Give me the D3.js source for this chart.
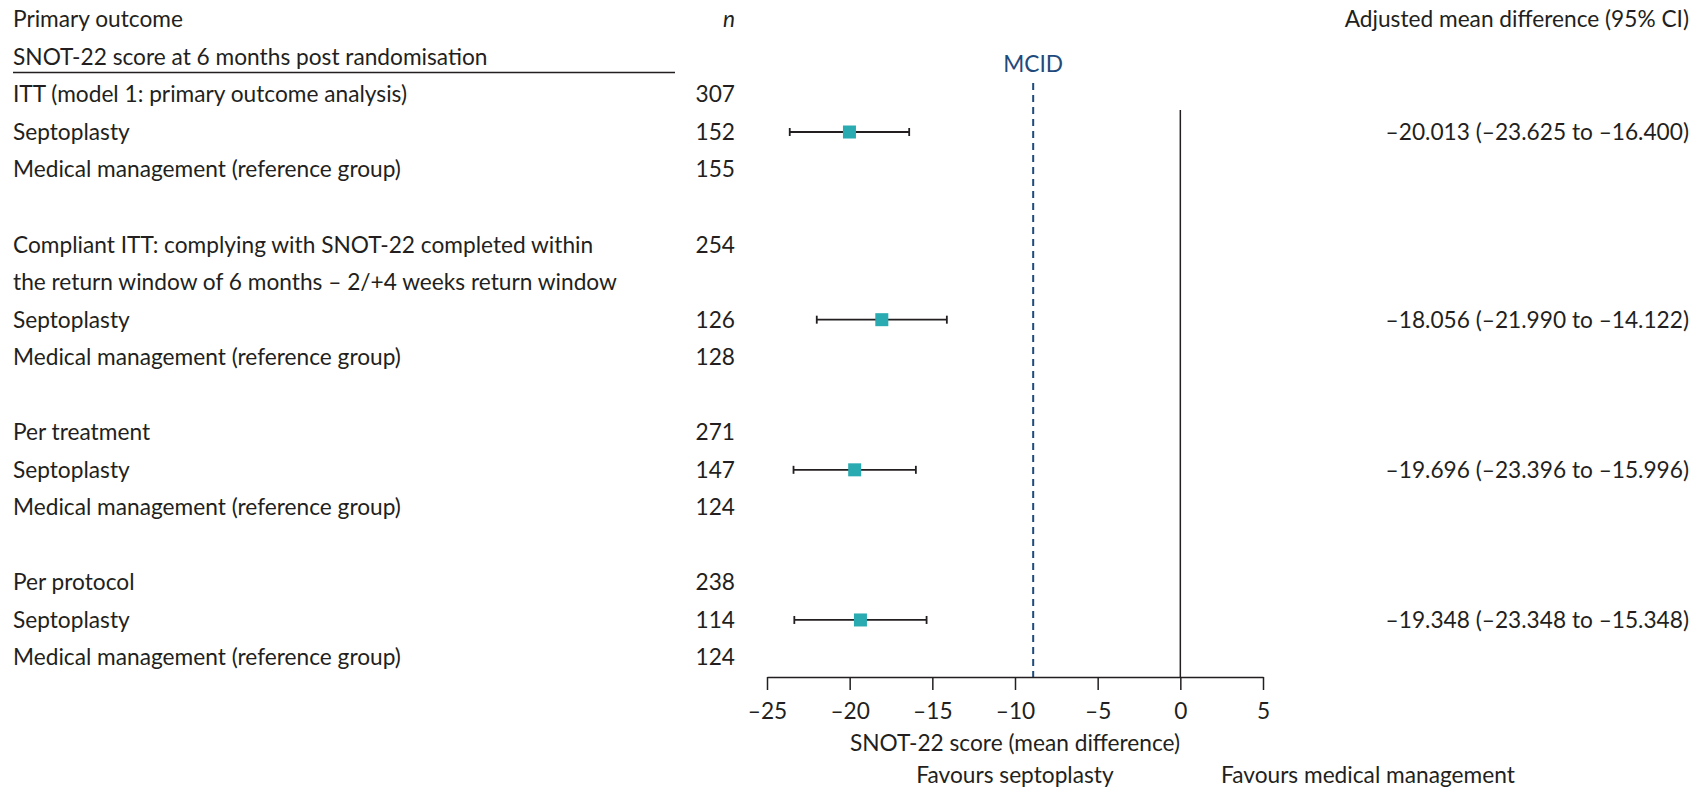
<!DOCTYPE html>
<meta charset="utf-8">
<head>
<style>
  body { margin: 0; background: #fff; }
  text { font-family: Lato, "Open Sans", sans-serif; fill: #231f20; }
</style>
</head>
<script src="https://d3js.org/d3.v7.min.js"></script>
<div id="chart"></div>
<script>

  // row labels, top to bottom (empty string = spacer row)
  var rowLabels = [
    "Primary outcome",
    "SNOT-22 score at 6 months post randomisation",
    "ITT (model 1: primary outcome analysis)",
    "Septoplasty",
    "Medical management (reference group)",
    "",
    "Compliant ITT: complying with SNOT-22 completed within",
    "the return window of 6 months \u2013 2/+4 weeks return window",
    "Septoplasty",
    "Medical management (reference group)",
    "",
    "Per treatment",
    "Septoplasty",
    "Medical management (reference group)",
    "",
    "Per protocol",
    "Septoplasty",
    "Medical management (reference group)"
  ];
  var rowN = [null, null, 307, 152, 155, null, 254, null, 126, 128, null, 271, 147, 124, null, 238, 114, 124];

  // estimates: row index, mean difference, lower, upper
  var estRows = [3, 8, 12, 16];
  var estMean = [-20.013, -18.056, -19.696, -19.348];
  var estLow = [-23.625, -21.990, -23.396, -23.348];
  var estHigh = [-16.400, -14.122, -15.996, -15.348];

  var xTicks = [-25, -20, -15, -10, -5, 0, 5];
  var mcid = -8.9;

  var width = 1693, height = 792;
  var svg = d3.select("#chart").append("svg")
      .attr("width", width)
      .attr("height", height);

  var fs = 22.7;
  var y = d3.scalePoint().domain(d3.range(rowLabels.length)).range([19.4, 657.5]);
  var x = d3.scaleLinear().domain([-25, 5]).range([767, 1263]);
  var axisY = 677;
  var fmt = v => (v < 0 ? "\u2013" : "") + Math.abs(v).toFixed(3);

  // left labels
  svg.append("g").selectAll("text").data(rowLabels).join("text")
      .attr("x", 13)
      .attr("y", (d, i) => y(i))
      .attr("dy", "0.35em")
      .style("font-size", fs + "px")
      .text(d => d);

  // underline below subtitle
  svg.append("line")
      .attr("x1", 13).attr("x2", 675)
      .attr("y1", 72.5).attr("y2", 72.5)
      .attr("stroke", "#231f20").attr("stroke-width", 1.5);

  // n column
  svg.append("text")
      .attr("x", 735).attr("y", y(0)).attr("dy", "0.35em")
      .attr("text-anchor", "end")
      .style("font-size", fs + "px").style("font-style", "italic")
      .text("n");
  svg.append("g").selectAll("text").data(rowN).join("text")
      .attr("x", 735)
      .attr("y", (d, i) => y(i))
      .attr("dy", "0.35em")
      .attr("text-anchor", "end")
      .style("font-size", fs + "px")
      .text(d => d == null ? "" : d);

  // right column
  svg.append("text")
      .attr("x", 1689).attr("y", y(0)).attr("dy", "0.35em")
      .attr("text-anchor", "end")
      .style("font-size", fs + "px")
      .text("Adjusted mean difference (95% CI)");
  svg.append("g").selectAll("text").data(estRows).join("text")
      .attr("x", 1689)
      .attr("y", d => y(d))
      .attr("dy", "0.35em")
      .attr("text-anchor", "end")
      .style("font-size", fs + "px")
      .text((d, i) => fmt(estMean[i]) + " (" + fmt(estLow[i]) + " to " + fmt(estHigh[i]) + ")");

  // zero line
  svg.append("line")
      .attr("x1", x(0)).attr("x2", x(0))
      .attr("y1", 110).attr("y2", axisY)
      .attr("stroke", "#231f20").attr("stroke-width", 1.5);

  // MCID line
  svg.append("line")
      .attr("x1", x(mcid)).attr("x2", x(mcid))
      .attr("y1", 83).attr("y2", axisY)
      .attr("stroke", "#1f4a7c").attr("stroke-width", 2)
      .attr("stroke-dasharray", "7,5");
  svg.append("text")
      .attr("x", x(mcid)).attr("y", 64).attr("dy", "0.35em")
      .attr("text-anchor", "middle")
      .style("font-size", fs + "px")
      .style("fill", "#1f4a7c")
      .text("MCID");

  // confidence intervals
  var ci = svg.append("g").selectAll("g").data(estRows).join("g")
      .attr("stroke", "#231f20").attr("stroke-width", 1.8);
  ci.append("line")
      .attr("x1", (d, i) => x(estLow[i])).attr("x2", (d, i) => x(estHigh[i]))
      .attr("y1", d => y(d)).attr("y2", d => y(d));
  ci.append("line")
      .attr("x1", (d, i) => x(estLow[i])).attr("x2", (d, i) => x(estLow[i]))
      .attr("y1", d => y(d) - 4).attr("y2", d => y(d) + 4);
  ci.append("line")
      .attr("x1", (d, i) => x(estHigh[i])).attr("x2", (d, i) => x(estHigh[i]))
      .attr("y1", d => y(d) - 4).attr("y2", d => y(d) + 4);
  svg.append("g").selectAll("rect").data(estRows).join("rect")
      .attr("x", (d, i) => x(estMean[i]) - 6.5)
      .attr("y", d => y(d) - 6.5)
      .attr("width", 13).attr("height", 13)
      .attr("fill", "#2aabb1");

  // x axis
  var axis = svg.append("g")
      .attr("transform", "translate(0," + axisY + ")")
      .call(d3.axisBottom(x).tickValues(xTicks).tickSize(13).tickSizeOuter(0)
        .tickFormat(d => (d < 0 ? "\u2013" : "") + Math.abs(d)));
  axis.select(".domain").attr("stroke", "#231f20").attr("stroke-width", 1.5);
  axis.selectAll(".tick line").attr("stroke", "#231f20").attr("stroke-width", 1.5);
  axis.selectAll(".tick text")
      .attr("y", 34).attr("dy", "0.35em")
      .style("font-size", fs + "px")
      .style("font-family", "Lato, sans-serif")
      .attr("fill", "#231f20");

  svg.append("text")
      .attr("x", x(-10)).attr("y", 743).attr("dy", "0.35em")
      .attr("text-anchor", "middle")
      .style("font-size", fs + "px")
      .text("SNOT-22 score (mean difference)");
  svg.append("text")
      .attr("x", x(-10)).attr("y", 775).attr("dy", "0.35em")
      .attr("text-anchor", "middle")
      .style("font-size", fs + "px")
      .text("Favours septoplasty");
  svg.append("text")
      .attr("x", 1221).attr("y", 775).attr("dy", "0.35em")
      .style("font-size", fs + "px")
      .text("Favours medical management");

</script>
